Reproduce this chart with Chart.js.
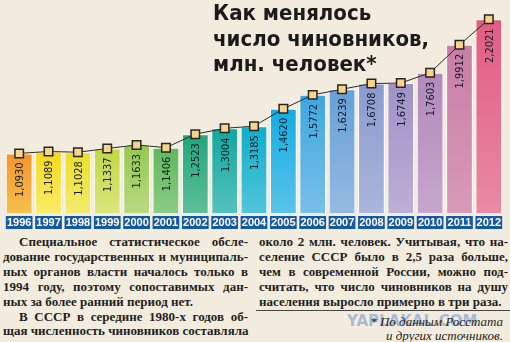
<!DOCTYPE html>
<html lang="ru">
<head>
<meta charset="utf-8">
<script src="https://cdn.jsdelivr.net/npm/chart.js@4.4.1/dist/chart.umd.min.js"></script>
<style>
  html,body{margin:0;padding:0;}
  body{width:510px;height:342px;overflow:hidden;position:relative;background:#f2ecdf;
       font-family:"Liberation Serif","Times New Roman",serif;color:#231f20;}
  #chartBox{position:absolute;left:-3px;top:0;width:514px;height:230px;}
  #title{position:absolute;left:213px;top:0;margin:0;
         font:bold 22px/25.5px "DejaVu Sans Condensed","DejaVu Sans",sans-serif;color:#1b1b1b;}
  .col{position:absolute;top:235px;font-weight:bold;font-size:13px;line-height:14.9px;}
  .col div{white-space:nowrap;text-align:justify;text-align-last:justify;}
  .col div.end{text-align-last:left;}
  .col div.ind{text-indent:16px;}
  #left{left:3px;width:245px;}
  #right{left:259px;width:249px;}
  #rule{position:absolute;left:256px;top:310px;width:254px;border-top:1px solid #4a4440;}
  #wm{position:absolute;left:347px;top:312px;font:bold 15px "DejaVu Sans",sans-serif;
      color:#a9bad3;}
  #note{position:absolute;right:7px;top:315px;text-align:right;
        font:italic 13px/14px "Liberation Serif",serif;}
</style>
</head>
<body>
<div id="chartBox"><canvas id="officialsChart"></canvas></div>

<h1 id="title">Как менялось<br>число чиновников,<br>млн. человек*</h1>

<div class="col" id="left">
  <div class="ind">Специальное статистическое обсле-</div>
  <div>дование государственных и муниципаль-</div>
  <div>ных органов власти началось только в</div>
  <div>1994 году, поэтому сопоставимых дан-</div>
  <div class="end">ных за более ранний период нет.</div>
  <div class="ind">В СССР в середине 1980-х годов об-</div>
  <div>щая численность чиновников составляла</div>
</div>
<div class="col" id="right">
  <div>около 2 млн. человек. Учитывая, что на-</div>
  <div>селение СССР было в 2,5 раза больше,</div>
  <div>чем в современной России, можно под-</div>
  <div>считать, что число чиновников на душу</div>
  <div class="end">населения выросло примерно в три раза.</div>
</div>
<div id="rule"></div>
<div id="wm">YAPLAKAL.COM</div>
<div id="note">* По данным Росстата<br>и других источников.</div>

<script>
// ====== данные ======
const years = ['1996','1997','1998','1999','2000','2001','2002','2003','2004',
               '2005','2006','2007','2008','2009','2010','2011','2012'];
const officials = [1.0930, 1.1089, 1.1028, 1.1337, 1.1633, 1.1406, 1.2523, 1.3004, 1.3185,
                   1.4620, 1.5772, 1.6239, 1.6708, 1.6749, 1.7603, 1.9912, 2.2021];
const yMin = 0.6, yMax = 2.3;

// ====== цвета (верх / низ столбика) ======
const barTop = ['#f2962a','#f7d91c','#ecdf26','#c2d843','#94c94f','#5fb95b','#21a679','#10a79f','#0eaec9',
                '#14ace2','#3ea7df','#66a0d6','#8a9bce','#9f92c6','#b189bb','#c97da5','#e25c82'];
const barBottom = ['#f6c04e','#f9ec6a','#f2ea72','#d9e67c','#b8da82','#8ccb85','#5fbf9c','#55c2bb','#52c5da',
                   '#5ac4ea','#78c0e8','#95bae2','#aab5dc','#bcaed6','#c8a6cd','#d89ab9','#e98aa4'];

const fmt = v => v.toFixed(4).replace('.', ',');

// синие плашки под годами
const yearBoxes = {
  id: 'yearBoxes',
  beforeDraw(chart) {
    const {ctx, chartArea} = chart;
    ctx.save();
    ctx.fillStyle = '#1559a3';
    chart.getDatasetMeta(0).data.forEach(bar => {
      ctx.fillRect(bar.x - bar.width / 2, chartArea.bottom + 3, bar.width, 13);
    });
    ctx.restore();
  }
};

// вертикальные подписи значений
const valueLabels = {
  id: 'valueLabels',
  afterDatasetsDraw(chart) {
    const {ctx} = chart;
    ctx.save();
    ctx.fillStyle = '#121a28';
    ctx.font = '11px "DejaVu Sans Condensed",sans-serif';
    ctx.textAlign = 'right';
    ctx.textBaseline = 'middle';
    chart.getDatasetMeta(0).data.forEach((bar, i) => {
      ctx.save();
      ctx.translate(bar.x + 1, bar.y + 9);
      ctx.rotate(-Math.PI / 2);
      ctx.fillText(fmt(officials[i]), 0, 0);
      ctx.restore();
    });
    ctx.restore();
  }
};

new Chart(document.getElementById('officialsChart'), {
  type: 'bar',
  data: {
    labels: years,
    datasets: [
      {
        type: 'bar',
        data: officials,
        order: 1,
        barPercentage: 0.91,
        categoryPercentage: 1,
        borderWidth: 1,
        borderColor: '#ffffff',
        backgroundColor: c => {
          if (c.type !== 'data') return barTop[0];
          const {chart, dataIndex} = c;
          const area = chart.chartArea;
          if (!area) return barTop[dataIndex];
          const top = chart.scales.y.getPixelForValue(officials[dataIndex]);
          const g = chart.ctx.createLinearGradient(0, top, 0, area.bottom);
          g.addColorStop(0, barTop[dataIndex]);
          g.addColorStop(1, barBottom[dataIndex]);
          return g;
        }
      },
      {
        type: 'line',
        data: officials,
        order: 0,
        borderColor: '#2b2b2b',
        borderWidth: 1,
        tension: 0,
        pointStyle: 'rect',
        pointRadius: 6,
        pointBackgroundColor: '#f7d48a',
        pointBorderColor: '#262626',
        pointBorderWidth: 1.5
      }
    ]
  },
  options: {
    responsive: true,
    maintainAspectRatio: false,
    animation: false,
    layout: { padding: 0 },
    plugins: { legend: { display: false }, tooltip: { enabled: false } },
    scales: {
      y: { display: false, min: yMin, max: yMax },
      x: {
        grid: { display: false, drawTicks: false },
        border: { display: false },
        ticks: {
          color: '#ffffff',
          padding: 3,
          maxRotation: 0,
          autoSkip: false,
          font: { family: '"Liberation Sans",Arial,sans-serif', size: 11, weight: 'bold', lineHeight: 1.2 }
        },
        afterFit: s => { s.height = 17; }
      }
    }
  },
  plugins: [yearBoxes, valueLabels]
});
</script>
</body>
</html>
